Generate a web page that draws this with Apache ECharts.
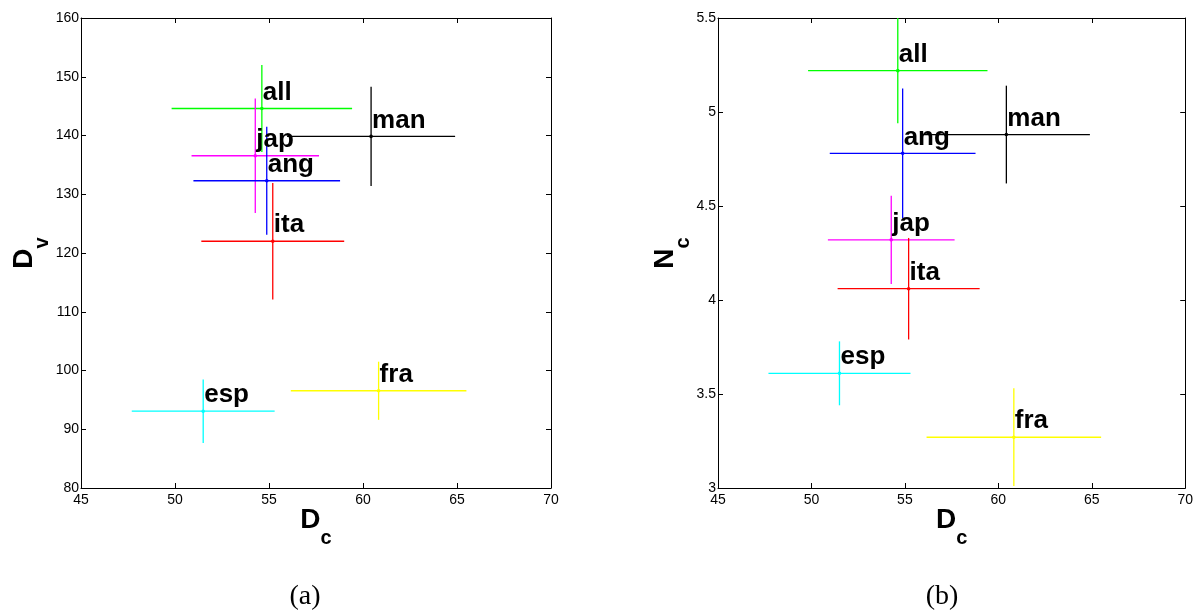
<!DOCTYPE html>
<html>
<head>
<meta charset="utf-8">
<script src="https://cdn.jsdelivr.net/npm/echarts@6.0.0/dist/echarts.min.js"></script>
<style>
  html, body { margin: 0; padding: 0; background: #fff; }
  #main { width: 1196px; height: 612px; }
</style>
</head>
<body>
<div id="main"></div>
<script>
// groups
var names = ['all', 'man', 'jap', 'ang', 'ita', 'esp', 'fra'];
var colors = ['#00ff00', '#000000', '#ff00ff', '#0000ff', '#ff0000', '#00ffff', '#ffff00'];
// D_c (same in both panels) and its half error bar
var dc = [54.62, 60.43, 54.27, 54.88, 55.2, 51.5, 60.83];
var dcErr = [4.8, 4.47, 3.39, 3.9, 3.8, 3.8, 4.67];
// panel (a): D_v
var dv = [144.6, 139.85, 136.55, 132.3, 122.0, 93.07, 96.55];
var dvErr = [7.4, 8.45, 9.75, 9.2, 9.9, 5.4, 4.95];
// panel (b): N_c
var nc = [5.22, 4.88, 4.32, 4.78, 4.06, 3.61, 3.27];
var ncErr = [0.28, 0.26, 0.235, 0.345, 0.27, 0.17, 0.26];

var xTicks = { min: 45, max: 70, interval: 5 };
var dvTicks = { min: 80, max: 160, interval: 10 };
var ncTicks = { min: 3, max: 5.5, interval: 0.5 };

function pack(ys, yErr) {
    var out = [];
    for (var i = 0; i < names.length; i++) {
        out.push([dc[i], ys[i], dcErr[i], yErr[i]]);
    }
    return out;
}

function renderErr(params, api) {
    var x = api.value(0), y = api.value(1), ex = api.value(2), ey = api.value(3);
    var c = api.coord([x, y]);
    var l = api.coord([x - ex, y]), r = api.coord([x + ex, y]);
    var t = api.coord([x, y + ey]), b = api.coord([x, y - ey]);
    var col = colors[params.dataIndex];
    return {
        type: 'group',
        children: [
            { type: 'line', shape: { x1: l[0], y1: l[1], x2: r[0], y2: r[1] }, style: { stroke: col, lineWidth: 1.3 } },
            { type: 'line', shape: { x1: t[0], y1: t[1], x2: b[0], y2: b[1] }, style: { stroke: col, lineWidth: 1.3 } },
            { type: 'circle', shape: { cx: c[0], cy: c[1], r: 1.8 }, style: { fill: col } },
            {
                type: 'text', x: c[0] + 1, y: c[1] - 3, z2: 10,
                style: {
                    text: names[params.dataIndex], fill: '#000',
                    font: 'bold 26px "Liberation Sans"',
                    align: 'left', verticalAlign: 'bottom'
                }
            }
        ]
    };
}

// letter + subscript, both boxes 42px tall so the line is fixed
var nameRich = {
    d: { fontSize: 28, lineHeight: 28, fontWeight: 'bold', fontFamily: 'Liberation Sans', color: '#000', padding: [0, 0, 14, 0] },
    s: { fontSize: 20, lineHeight: 20, fontWeight: 'bold', fontFamily: 'Liberation Sans', color: '#000', padding: [22, 0, 0, 0] }
};

function mainAxis(grid, pos, ticks, name, gap, rot) {
    return {
        type: 'value', gridIndex: grid, position: pos,
        min: ticks.min, max: ticks.max, interval: ticks.interval,
        name: name, nameLocation: 'middle', nameGap: gap, nameRotate: rot,
        nameMoveOverlap: false,
        nameTextStyle: { rich: nameRich },
        axisLine: { show: true, onZero: false, lineStyle: { color: '#000', width: 1 } },
        axisTick: { show: true, inside: true, length: 5, lineStyle: { color: '#000' } },
        axisLabel: { color: '#000', fontSize: 14, fontFamily: 'Liberation Sans', margin: pos === 'bottom' ? 5 : 2 },
        splitLine: { show: false }
    };
}

function mirrorAxis(grid, pos, ticks) {
    return {
        type: 'value', gridIndex: grid, position: pos,
        min: ticks.min, max: ticks.max, interval: ticks.interval,
        axisLine: { show: true, onZero: false, lineStyle: { color: '#000', width: 1 } },
        axisTick: { show: true, inside: true, length: 5, lineStyle: { color: '#000' } },
        axisLabel: { show: false },
        splitLine: { show: false }
    };
}

var dom = document.getElementById('main');
var myChart = echarts.init(dom);
var option = {
    animation: false,
    backgroundColor: '#fff',
    grid: [
        { left: 81, top: 18, width: 470, height: 470 },
        { left: 718, top: 18, width: 470, height: 470 }
    ],
    xAxis: [
        mainAxis(0, 'bottom', xTicks, '{d|D}{s|c}', 25, 0),
        mirrorAxis(0, 'top', xTicks),
        mainAxis(1, 'bottom', xTicks, '{d|D}{s|c}', 25, 0),
        mirrorAxis(1, 'top', xTicks)
    ],
    yAxis: [
        mainAxis(0, 'left', dvTicks, '{d|D}{s|v}', 36, 90),
        mirrorAxis(0, 'right', dvTicks),
        mainAxis(1, 'left', ncTicks, '{d|N}{s|c}', 32, 90),
        mirrorAxis(1, 'right', ncTicks)
    ],
    graphic: [
        { type: 'text', x: 305, y: 597, style: { text: '(a)', font: '28px "Liberation Serif"', fill: '#000', align: 'center', verticalAlign: 'middle' } },
        { type: 'text', x: 942, y: 597, style: { text: '(b)', font: '28px "Liberation Serif"', fill: '#000', align: 'center', verticalAlign: 'middle' } }
    ],
    series: [
        {
            type: 'custom', name: 'Dv', xAxisIndex: 0, yAxisIndex: 0, clip: true,
            renderItem: renderErr, data: pack(dv, dvErr)
        },
        {
            type: 'custom', name: 'Nc', xAxisIndex: 2, yAxisIndex: 2, clip: true,
            renderItem: renderErr, data: pack(nc, ncErr)
        }
    ]
};
myChart.setOption(option);
window.addEventListener('resize', function() {
    myChart.resize();
});
</script>
</body>
</html>
